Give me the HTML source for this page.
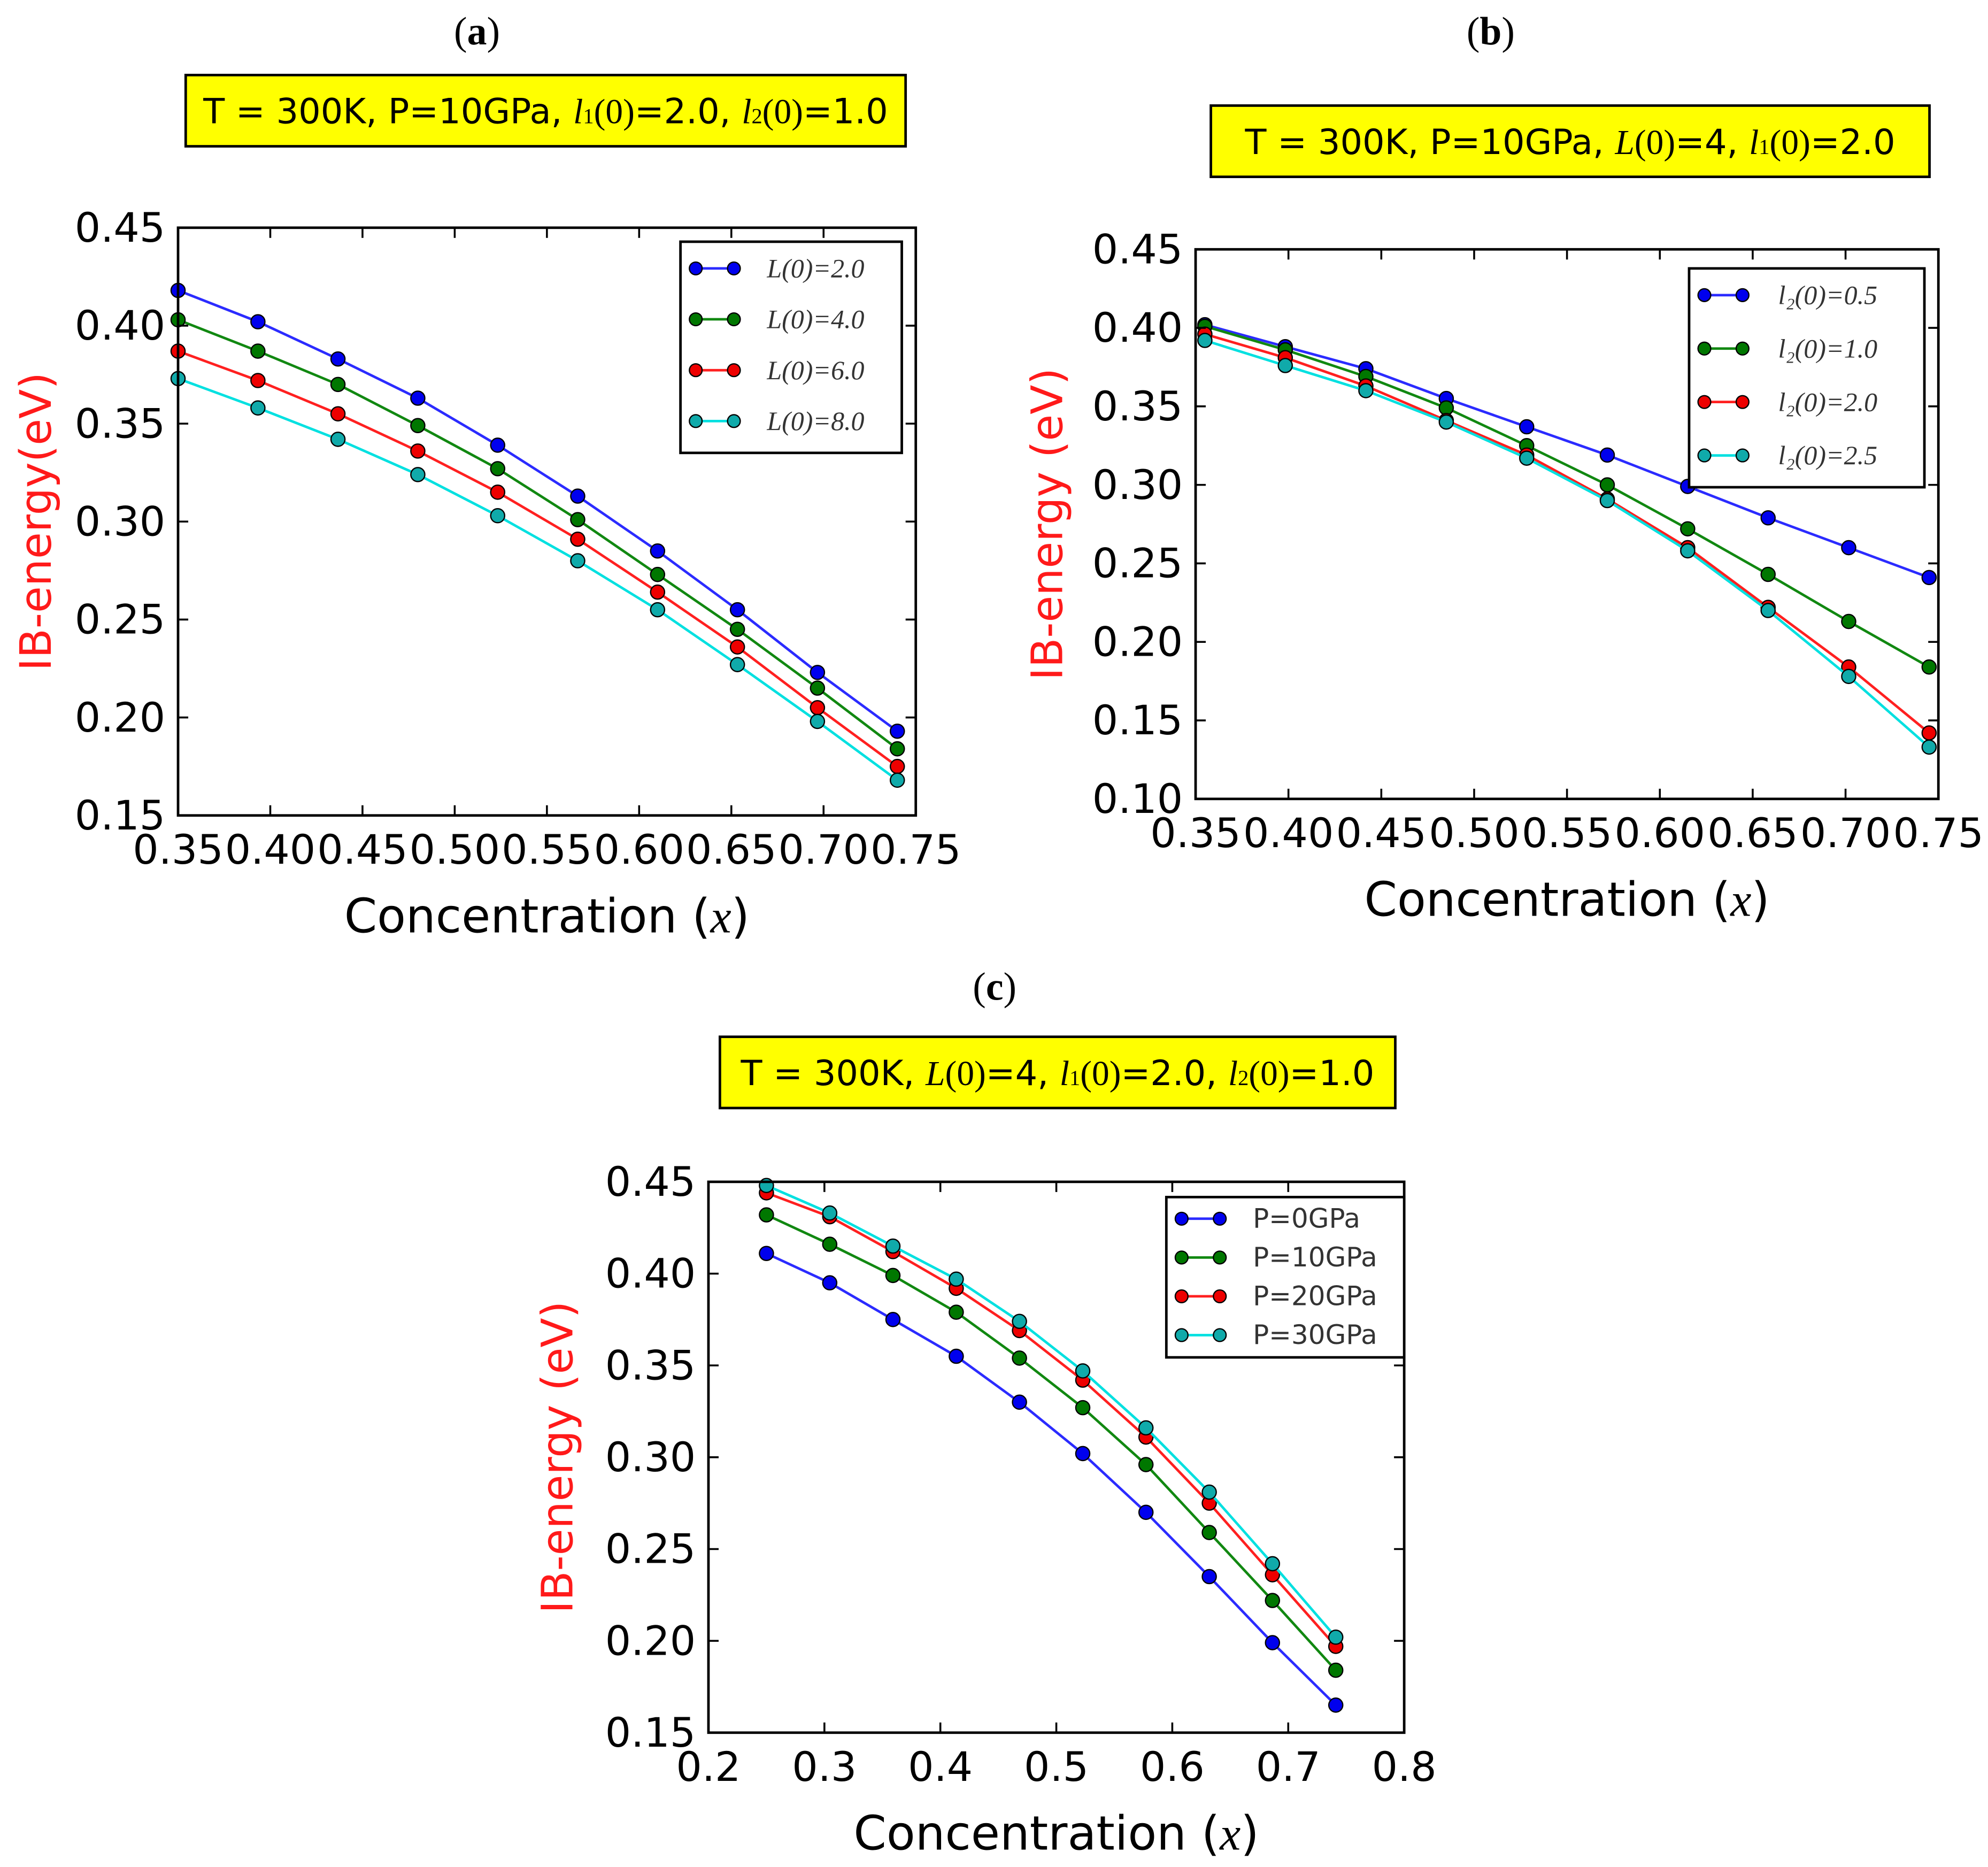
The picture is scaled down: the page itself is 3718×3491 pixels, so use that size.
<!DOCTYPE html>
<html><head><meta charset="utf-8"><style>
html,body{margin:0;padding:0;background:#fff;}
svg{display:block;}
text{font-family:"DejaVu Sans","Liberation Sans",sans-serif;}
.serif{font-family:"Liberation Serif","DejaVu Serif",serif;}
</style></head><body>
<svg id="fig" xmlns="http://www.w3.org/2000/svg" width="3718" height="3491" viewBox="0 0 1563 1467.6" preserveAspectRatio="none">
<rect width="1563" height="1467.6" fill="#fff"/>
</svg>
<script>
// ---- data ----
const xA = [0.35,0.3933,0.4367,0.48,0.5233,0.5667,0.61,0.6533,0.6967,0.74];
const aL2 = [0.418,0.402,0.383,0.363,0.339,0.313,0.285,0.255,0.223,0.193];
const aL4 = [0.403,0.387,0.370,0.349,0.327,0.301,0.273,0.245,0.215,0.184];
const aL6 = [0.387,0.372,0.355,0.336,0.315,0.291,0.264,0.236,0.205,0.175];
const aL8 = [0.373,0.358,0.342,0.324,0.303,0.280,0.255,0.227,0.198,0.168];
const xB = [0.355,0.3983,0.4417,0.485,0.5283,0.5717,0.615,0.6583,0.7017,0.745];
const b05 = [0.402,0.388,0.374,0.355,0.337,0.319,0.299,0.279,0.260,0.241];
const b10 = [0.401,0.386,0.369,0.349,0.325,0.300,0.272,0.243,0.213,0.184];
const b20 = [0.396,0.381,0.363,0.341,0.319,0.291,0.260,0.222,0.184,0.142];
const b25 = [0.392,0.376,0.360,0.340,0.317,0.290,0.258,0.220,0.178,0.133];
const xC = [0.25,0.3046,0.3591,0.4137,0.4682,0.5228,0.5773,0.6319,0.6864,0.741];
const cP0 = [0.411,0.395,0.375,0.355,0.330,0.302,0.270,0.235,0.199,0.165];
const cP10 = [0.432,0.416,0.399,0.379,0.354,0.327,0.296,0.259,0.222,0.184];
const cP20 = [0.444,0.431,0.412,0.392,0.369,0.342,0.311,0.275,0.236,0.197];
const cP30 = [0.448,0.433,0.415,0.397,0.374,0.347,0.316,0.281,0.242,0.202];
const yTicksA = ["0.15","0.20","0.25","0.30","0.35","0.40","0.45"];
const xTicksA = ["0.35","0.40","0.45","0.50","0.55","0.60","0.65","0.70","0.75"];
const yTicksB = ["0.10","0.15","0.20","0.25","0.30","0.35","0.40","0.45"];
const xTicksC = ["0.2","0.3","0.4","0.5","0.6","0.7","0.8"];
const legA = ["L(0)=2.0","L(0)=4.0","L(0)=6.0","L(0)=8.0"];
const legB = ["l\u2082(0)=0.5","l\u2082(0)=1.0","l\u2082(0)=2.0","l\u2082(0)=2.5"];
const legC = ["P=0GPa","P=10GPa","P=20GPa","P=30GPa"];

const NS="http://www.w3.org/2000/svg";
const svg=document.getElementById('fig');
const lineCol=["#2b2bff","#118811","#ff2020","#00e0e0"];
const mkCol=["#0000ee","#007700","#ee0000","#10aaaa"];
function el(tag,attrs,parent){const e=document.createElementNS(NS,tag);for(const k in attrs)e.setAttribute(k,attrs[k]);(parent||svg).appendChild(e);return e;}
function txt(s,attrs,parent){const e=el('text',attrs,parent);e.textContent=s;return e;}

function panel(cfg){
  const g=el('g',{});
  
  
  const sx=v=>cfg.x0+(v-cfg.xmin)/(cfg.xmax-cfg.xmin)*(cfg.x1-cfg.x0);
  const sy=v=>cfg.y1-(v-cfg.ymin)/(cfg.ymax-cfg.ymin)*(cfg.y1-cfg.y0);
  const pl=txt('',{x:cfg.letterX,y:cfg.letterY,'font-size':31,'text-anchor':'middle',class:'serif'},g);
  
  
  pl.innerHTML='(<tspan font-weight="bold">'+cfg.letter+'</tspan>)';
  const yb=el('rect',{x:cfg.bx,y:cfg.by,width:cfg.bw,height:56,fill:'#ffff00',stroke:'#000','stroke-width':2},g);
  
  
  const bt=txt('',{x:cfg.bx+cfg.bw/2,y:cfg.by+38,'font-size':27.5,'text-anchor':'middle'},g);
  
  
  bt.innerHTML=cfg.boxHtml;
  cfg.series.forEach((s,i)=>{
    const pts=cfg.xs.map((x,j)=>sx(x)+','+sy(s[j])).join(' ');
    const pl=el('polyline',{points:pts,fill:'none',stroke:lineCol[i],'stroke-width':2},g);
    
    
    cfg.xs.forEach((x,j)=>{
      const c=el('circle',{cx:sx(x),cy:sy(s[j]),r:5.5,fill:mkCol[i],stroke:'#000','stroke-width':1},g);
      
      
    });
  });
  const fr=el('rect',{x:cfg.x0,y:cfg.y0,width:cfg.x1-cfg.x0,height:cfg.y1-cfg.y0,fill:'none',stroke:'#000','stroke-width':2},g);
  
  
  cfg.yTicks.forEach(t=>{
    const v=parseFloat(t),y=sy(v);
    el('line',{x1:cfg.x0,x2:cfg.x0+8,y1:y,y2:y,stroke:'#000','stroke-width':1.5},g);
    el('line',{x1:cfg.x1,x2:cfg.x1-8,y1:y,y2:y,stroke:'#000','stroke-width':1.5},g);
    const tl=txt(t,{x:cfg.x0-10,y:y+11,'font-size':32,'text-anchor':'end'},g);
    
    
  });
  cfg.xTicks.forEach(t=>{
    const v=parseFloat(t),x=sx(v);
    el('line',{x1:x,x2:x,y1:cfg.y1,y2:cfg.y1-8,stroke:'#000','stroke-width':1.5},g);
    el('line',{x1:x,x2:x,y1:cfg.y0,y2:cfg.y0+8,stroke:'#000','stroke-width':1.5},g);
    const tl=txt(t,{x:x,y:cfg.y1+38,'font-size':32,'text-anchor':'middle'},g);
    
    
  });
  const xl=txt('',{x:(cfg.x0+cfg.x1)/2,y:cfg.y1+92,'font-size':37,'text-anchor':'middle'},g);
  
  
  xl.innerHTML='Concentration (<tspan class="serif" font-style="italic">x</tspan>)';
  const yl=txt(cfg.ylabel,{x:0,y:0,'font-size':34,'text-anchor':'middle',fill:'#ff1a1a',transform:'translate('+cfg.ylx+','+((cfg.y0+cfg.y1)/2)+') rotate(-90)'},g);
  
  
  const L=cfg.leg;
  const lr=el('rect',{x:L.x,y:L.y,width:L.w,height:L.h,fill:'#fff',stroke:'#000','stroke-width':2},g);
  
  
  cfg.legLabels.forEach((s,i)=>{
    const yy=L.y+L.first+i*L.step;
    el('line',{x1:L.x+12,x2:L.x+42,y1:yy,y2:yy,stroke:lineCol[i],'stroke-width':2},g);
    el('circle',{cx:L.x+12,cy:yy,r:5,fill:mkCol[i],stroke:'#000','stroke-width':1},g);
    el('circle',{cx:L.x+42,cy:yy,r:5,fill:mkCol[i],stroke:'#000','stroke-width':1},g);
    const t=txt(s,{x:L.x+L.tx,y:yy+7,'font-size':21,fill:'#333'},g);
    if(cfg.legItalic) t.setAttribute('class','serif'),t.setAttribute('font-style','italic');
    
    
  });
}
const it=s=>'<tspan class="serif" font-style="italic">'+s+'</tspan>';
panel({name:'panel-a',letter:'a',letterX:375,letterY:35,bx:146,by:59,bw:566,
  boxHtml:'T = 300K, P=10GPa, '+it('l')+'<tspan class="serif" font-size="17">1</tspan><tspan class="serif">(0)</tspan>=2.0, '+it('l')+'<tspan class="serif" font-size="17">2</tspan><tspan class="serif">(0)</tspan>=1.0',
  x0:140,x1:720,y0:179,y1:641,xmin:0.35,xmax:0.75,ymin:0.15,ymax:0.45,
  xs:xA,series:[aL2,aL4,aL6,aL8],yTicks:yTicksA,xTicks:xTicksA,ylabel:'IB-energy(eV)',ylx:40,
  leg:{x:535,y:190,w:174,h:166,first:21,step:40,tx:68},legLabels:legA,legItalic:true});
panel({name:'panel-b',letter:'b',letterX:1172,letterY:35,bx:952,by:83,bw:565,
  boxHtml:'T = 300K, P=10GPa, '+it('L')+'<tspan class="serif">(0)</tspan>=4, '+it('l')+'<tspan class="serif" font-size="17">1</tspan><tspan class="serif">(0)</tspan>=2.0',
  x0:940,x1:1524,y0:196,y1:628,xmin:0.35,xmax:0.75,ymin:0.10,ymax:0.45,
  xs:xB,series:[b05,b10,b20,b25],yTicks:yTicksB,xTicks:xTicksA,ylabel:'IB-energy (eV)',ylx:835,
  leg:{x:1328,y:211,w:185,h:172,first:21,step:42,tx:70},legLabels:legB,legItalic:true});
panel({name:'panel-c',letter:'c',letterX:782,letterY:786,bx:566,by:815,bw:531,
  boxHtml:'T = 300K, '+it('L')+'<tspan class="serif">(0)</tspan>=4, '+it('l')+'<tspan class="serif" font-size="17">1</tspan><tspan class="serif">(0)</tspan>=2.0, '+it('l')+'<tspan class="serif" font-size="17">2</tspan><tspan class="serif">(0)</tspan>=1.0',
  x0:557,x1:1104,y0:929,y1:1362,xmin:0.2,xmax:0.8,ymin:0.15,ymax:0.45,
  xs:xC,series:[cP0,cP10,cP20,cP30],yTicks:yTicksA,xTicks:xTicksC,ylabel:'IB-energy (eV)',ylx:450,
  leg:{x:917,y:941,w:187,h:126,first:17,step:30.5,tx:68},legLabels:legC,legItalic:false});
</script>
</body></html>
